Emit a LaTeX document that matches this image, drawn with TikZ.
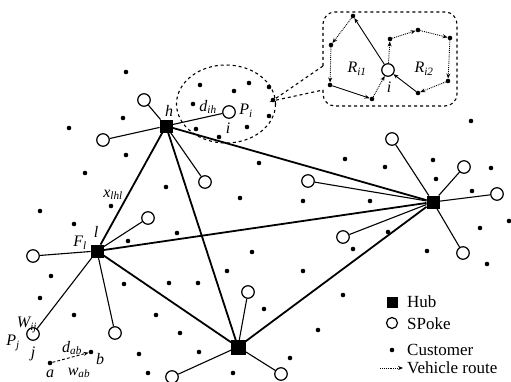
\documentclass[tikz,border=0pt]{standalone}
\usepackage{fontspec}
\setmainfont{Liberation Serif}
\usetikzlibrary{arrows.meta,shapes.geometric}
\newcommand\lb[2]{\textit{#1}\textsubscript{\textit{#2}}}
\begin{document}
\begin{tikzpicture}[x=1pt,y=-1pt,
  hub/.style={draw, fill=black, rectangle, minimum size=12.5pt, inner sep=0pt},
  spoke/.style={draw, fill=white, circle, minimum size=12.5pt, inner sep=0pt, line width=1.2pt},
  cust/.style={fill=black, circle, minimum size=4.6pt, inner sep=0pt},
  trunk/.style={line width=1.8pt},
  feeder/.style={line width=1.1pt},
  lab/.style={font=\fontsize{16}{16}\selectfont\itshape, inner sep=0pt},
  leg/.style={font=\fontsize{17}{17}\selectfont, inner sep=0pt, anchor=west},
  route/.style={line width=0.9pt, -{Stealth[length=5pt,width=4pt]}},
  routed/.style={route, densely dotted},
]
\useasboundingbox (0,0) rectangle (511,382);

% customers
\foreach \x/\y [count=\k] in {126/72,69/128,123/118,126/155,85/173,166/187,200/85,249/83,234/91,269/87,193/104,247/127,269/116,196/129,219/137,259/163,40/211,74/224,128/241,51/276,40/298,124/284,74/315,139/354,148/373,111/206,177/233,240/198,303/201,370/201,388/232,353/249,252/252,227/271,303/271,169/283,198/283,343/295,156/315,264/309,180/333,318/330,199/352,290/358,233/373,345/159,385/167,433/160,436/179,491/168,472/191,509/221,480/228,427/251,487/264,471/121,273/100}
  \node[cust] (c\k) at (\x,\y) {};

% ellipse and callout
\node[draw, dashed, line width=1.1pt, ellipse, minimum width=99pt, minimum height=78pt, inner sep=0pt] (ell) at (226,104) {};
\draw[dashed, line width=1.1pt, rounded corners=12pt] (323,66) -- (323,12) -- (457,12) -- (457,106) -- (323,106) -- (323,90);
\coordinate (tip) at (272,101);
\draw[dashed, line width=1.1pt] (323,66) -- (tip) -- (323,90);

% hubs
\node[hub] (h) at (166,126) {};
\node[hub] (l) at (97,251) {};
\node[hub] (r) at (433,202) {};
\node[hub, minimum size=13.5pt] (b) at (238,347) {};

% spokes
\node[spoke] (s1) at (144,100) {};
\node[spoke] (s2) at (103,140) {};
\node[spoke] (s3) at (205,182) {};
\node[spoke] (pi) at (229,112) {};
\node[spoke] (s5) at (33,256) {};
\node[spoke] (pj) at (33,334) {};
\node[spoke] (s7) at (115,333) {};
\node[spoke] (s8) at (148,218) {};
\node[spoke] (s9) at (392,139) {};
\node[spoke] (s10) at (464,167) {};
\node[spoke] (s11) at (497,194) {};
\node[spoke] (s12) at (463,253) {};
\node[spoke] (s13) at (343,237) {};
\node[spoke] (s14) at (308,181) {};
\node[spoke] (s15) at (248,292) {};
\node[spoke] (s16) at (281,374) {};
\node[spoke] (s17) at (172,377) {};

% trunk lines
\draw[trunk] (h) -- (l);
\draw[trunk] (h) -- (r);
\draw[trunk] (h) -- (b);
\draw[trunk] (l) -- (r);
\draw[trunk] (l) -- (b);
\draw[trunk] (b) -- (r);

% feeder lines
\foreach \s in {s1,s2,s3,pi} \draw[feeder] (h) -- (\s);
\foreach \s in {s5,pj,s7,s8} \draw[feeder] (l) -- (\s);
\foreach \s in {s9,s10,s11,s12,s13,s14} \draw[feeder] (r) -- (\s);
\foreach \s in {s15,s16,s17} \draw[feeder] (b) -- (\s);

% a-b
\node[cust] (na) at (50,363) {};
\node[cust] (nb) at (91,352) {};
\draw[line width=0.9pt, densely dashed, -{Stealth[length=5pt,width=4pt]}] (na) -- (nb);

% labels
\node[lab] (lh) at (169,111) {h};
\node[lab] (ldih) at (208,107) {\lb{d}{ih}};
\node[lab] (lpi) at (246,111) {\lb{P}{i}};
\node[lab] (li) at (228,128) {i};
\node[lab] (lx) at (113,195) {\lb{x}{lhl}};
\node[lab] (lfl) at (80,243) {\lb{F}{l}};
\node[lab] (ll) at (96,232) {l};
\node[lab] (lw) at (27,325) {\lb{W}{ij}};
\node[lab] (lpj) at (13,343) {\lb{P}{j}};
\node[lab] (lj) at (33,354) {j};
\node[lab] (ldab) at (72,348) {\lb{d}{ab}};
\node[lab] (lwab) at (79,373) {\lb{w}{ab}};
\node[lab] (la) at (50,374) {a};
\node[lab] (lbb) at (100,359) {b};

% route inset
\node[spoke] (ri) at (388,70) {};
\node[lab] (lri) at (389,87) {i};
\node[lab] (lr1) at (357,69) {\lb{R}{i1}};
\node[lab] (lr2) at (424,69) {\lb{R}{i2}};
\node[cust] (A) at (353,16) {};
\node[cust] (B) at (331,45) {};
\node[cust] (C) at (330,85) {};
\node[cust] (D) at (372,99) {};
\node[cust] (E) at (390,39) {};
\node[cust] (F) at (418,30) {};
\node[cust] (G) at (450,38) {};
\node[cust] (H) at (448,81) {};
\node[cust] (I) at (418,93) {};
\draw[route] (ri) -- (A);
\draw[routed] (A) -- (B);
\draw[routed] (B) -- (C);
\draw[route] (C) -- (D);
\draw[routed] (D) -- (ri);
\draw[routed] (ri) -- (E);
\draw[routed] (E) -- (F);
\draw[routed] (F) -- (G);
\draw[routed] (G) -- (H);
\draw[routed] (H) -- (I);
\draw[route] (I) -- (ri);

% legend
\node[hub, minimum size=10.5pt] (kh) at (392,302) {};
\node[spoke, minimum size=11pt] (ks) at (392,323) {};
\node[cust] (kc) at (392,350) {};
\coordinate (kr1) at (380,368);
\coordinate (kr2) at (403,368);
\draw[routed] (kr1) -- (kr2);
\node[leg] (th) at (407,302) {Hub};
\node[leg] (ts) at (407,324) {SPoke};
\node[leg] (tc) at (407,350) {Customer};
\node[leg] (tv) at (407,368) {Vehicle route};
\end{tikzpicture}
\end{document}
